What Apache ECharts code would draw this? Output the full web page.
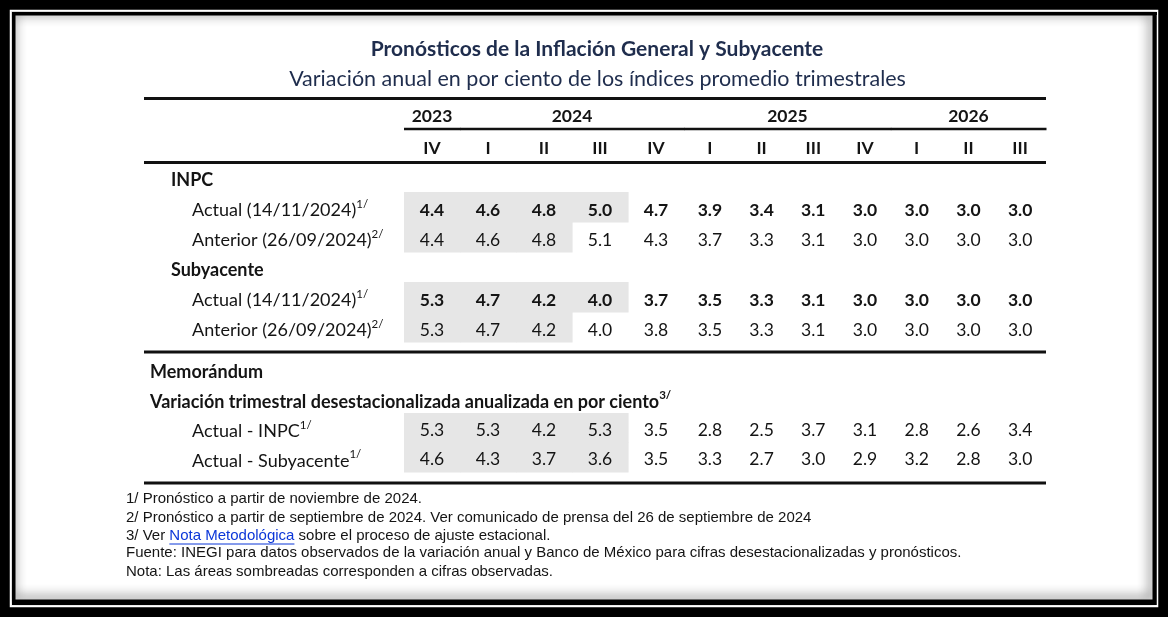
<!DOCTYPE html>
<html><head><meta charset="utf-8">
<script src="https://cdn.jsdelivr.net/npm/echarts@6/dist/echarts.min.js"></script>
<style>html,body{margin:0;padding:0;background:#000}#c{width:1168px;height:617px}</style>
</head><body><div id="c"></div><script>
// ---------------- DATA ----------------
const quarters = ['IV','I','II','III','IV','I','II','III','IV','I','II','III'];
const yearLabels = ['2023','2024','2025','2026'];
const yearFirstCol = [0,1,5,9];
const yearLastCol = [0,4,8,11];

const inpcActual   = [4.4,4.6,4.8,5.0,4.7,3.9,3.4,3.1,3.0,3.0,3.0,3.0];
const inpcAnterior = [4.4,4.6,4.8,5.1,4.3,3.7,3.3,3.1,3.0,3.0,3.0,3.0];
const subActual    = [5.3,4.7,4.2,4.0,3.7,3.5,3.3,3.1,3.0,3.0,3.0,3.0];
const subAnterior  = [5.3,4.7,4.2,4.0,3.8,3.5,3.3,3.1,3.0,3.0,3.0,3.0];
const memoInpc     = [5.3,5.3,4.2,5.3,3.5,2.8,2.5,3.7,3.1,2.8,2.6,3.4];
const memoSub      = [4.6,4.3,3.7,3.6,3.5,3.3,2.7,3.0,2.9,3.2,2.8,3.0];

const upperRowLabels = ['INPC','Actual (14/11/2024)','Anterior (26/09/2024)','Subyacente','Actual (14/11/2024)','Anterior (26/09/2024)'];
const upperRowNotes = ['','1/','2/','','1/','2/'];
const upperRowHeading = [true,false,false,true,false,false];
const upperRowValues = [null,inpcActual,inpcAnterior,null,subActual,subAnterior];
const upperRowObserved = [0,4,3,0,4,3];   // number of observed (shaded) quarters
const upperRowBold = [false,true,false,false,true,false];

const memoRowLabels = ['Memorándum','Variación trimestral desestacionalizada anualizada en por ciento','Actual - INPC','Actual - Subyacente'];
const memoRowNotes = ['','3/','1/','1/'];
const memoRowHeading = [true,true,false,false];
const memoRowValues = [null,null,memoInpc,memoSub];
const memoRowObserved = [0,0,4,4];
const memoRowBold = [false,false,false,false];

const titleText = 'Pronósticos de la Inflación General y Subyacente';
const subtitleText = 'Variación anual en por ciento de los índices promedio trimestrales';
const footnotes = [
  ['1/ Pronóstico a partir de noviembre de 2024.'],
  ['2/ Pronóstico a partir de septiembre de 2024. Ver comunicado de prensa del 26 de septiembre de 2024'],
  ['3/ Ver ', 'Nota Metodológica', ' sobre el proceso de ajuste estacional.'],
  ['Fuente: INEGI para datos observados de la variación anual y Banco de México para cifras desestacionalizadas y pronósticos.'],
  ['Nota: Las áreas sombreadas corresponden a cifras observadas.']
];

// ---------------- LAYOUT / STYLE ----------------
const FONT = 'Lato';
const FOOT_FONT = '"Liberation Sans", Arial, sans-serif';
const TXT = '#141414';
const NAVY = '#1f2d4d';
const SHADE = '#e6e6e6';
const NUM_SIZE = 17.5;
const LABEL_SIZE = 18;
const SPLIT = 5; // columns 0..4 in left grids, 5..11 in right grids
const X0 = 404, XS = 684, X1 = 1046;
const TABLE_L = 144;

const grids = [
  {left: X0, top: 100, width: XS - X0, height: 32},  // 0 header left
  {left: XS, top: 100, width: X1 - XS, height: 32},  // 1 header right
  {left: X0, top: 162, width: XS - X0, height: 180}, // 2 upper left
  {left: XS, top: 162, width: X1 - XS, height: 180}, // 3 upper right
  {left: X0, top: 354, width: XS - X0, height: 118}, // 4 memo left
  {left: XS, top: 354, width: X1 - XS, height: 118}  // 5 memo right
];
const leftQ = quarters.slice(0, SPLIT), rightQ = quarters.slice(SPLIT);

function richLabels(indent) {
  return {
    h: {fontFamily: FONT, fontSize: LABEL_SIZE, fontWeight: 'bold', color: TXT, lineHeight: 24},
    hs: {fontFamily: FONT, fontSize: 11.5, fontWeight: 'bold', color: TXT, lineHeight: 12, verticalAlign: 'top'},
    r: {fontFamily: FONT, fontSize: LABEL_SIZE, color: TXT, lineHeight: 24, padding: [0, 0, 0, indent]},
    s: {fontFamily: FONT, fontSize: 11.5, color: TXT, lineHeight: 12, verticalAlign: 'top'}
  };
}
function labelFormatter(labels, notes, heading) {
  return function (v, i) {
    if (heading[i]) return '{h|' + labels[i] + '}' + (notes[i] ? '{hs|' + notes[i] + '}' : '');
    return '{r|' + labels[i] + '}' + (notes[i] ? '{s|' + notes[i] + '}' : '');
  };
}
const idx = n => Array.from({length: n}, (_, i) => String(i));

const qLabel = {interval: 0, margin: 14, verticalAlign: 'middle', fontFamily: FONT, fontSize: NUM_SIZE, fontWeight: 'bold', color: TXT};
const xAxes = [
  {gridIndex: 0, type: 'category', data: leftQ, show: false},
  {gridIndex: 1, type: 'category', data: rightQ, show: false},
  {gridIndex: 2, type: 'category', data: leftQ, position: 'top', axisLine: {show: false}, axisTick: {show: false}, axisLabel: qLabel},
  {gridIndex: 3, type: 'category', data: rightQ, position: 'top', axisLine: {show: false}, axisTick: {show: false}, axisLabel: qLabel},
  {gridIndex: 4, type: 'category', data: leftQ, show: false},
  {gridIndex: 5, type: 'category', data: rightQ, show: false}
];
const yAxes = [
  {gridIndex: 0, type: 'category', data: ['y'], show: false},
  {gridIndex: 1, type: 'category', data: ['y'], show: false},
  {gridIndex: 2, type: 'category', data: idx(upperRowLabels.length), inverse: true, axisLine: {show: false}, axisTick: {show: false}, splitLine: {show: false},
   axisLabel: {interval: 0, align: 'left', margin: X0 - 171, padding: [7, 0, 0, 0], formatter: labelFormatter(upperRowLabels, upperRowNotes, upperRowHeading), rich: richLabels(21)}},
  {gridIndex: 3, type: 'category', data: idx(upperRowLabels.length), inverse: true, show: false},
  {gridIndex: 4, type: 'category', data: idx(memoRowLabels.length), inverse: true, axisLine: {show: false}, axisTick: {show: false}, splitLine: {show: false},
   axisLabel: {interval: 0, align: 'left', margin: X0 - 150, padding: [7, 0, 0, 0], formatter: labelFormatter(memoRowLabels, memoRowNotes, memoRowHeading), rich: richLabels(42)}},
  {gridIndex: 5, type: 'category', data: idx(memoRowLabels.length), inverse: true, show: false}
];

function cellData(rowValues, rowObserved, rowBold, from, to) {
  const out = [];
  rowValues.forEach((vals, r) => {
    if (!vals) return;
    for (let c = from; c < to; c++) out.push([c - from, r, vals[c], c < rowObserved[r] ? 1 : 0, rowBold[r] ? 1 : 0]);
  });
  return out;
}
function cellSeries(axisIdx, data, dy) {
  return {
    type: 'custom', xAxisIndex: axisIdx, yAxisIndex: axisIdx, data: data, silent: true,
    renderItem: function (params, api) {
      const c = api.coord([api.value(0), api.value(1)]);
      const s = api.size([1, 1]);
      const ch = [];
      if (api.value(3)) ch.push({type: 'rect', shape: {x: c[0] - s[0] / 2, y: c[1] - s[1] / 2, width: s[0] + 0.6, height: s[1] + 0.6}, style: {fill: SHADE}});
      ch.push({type: 'text', style: {text: Number(api.value(2)).toFixed(1), x: c[0], y: c[1] + dy, align: 'center', verticalAlign: 'middle',
        fontFamily: FONT, fontSize: NUM_SIZE, fontWeight: api.value(4) ? 'bold' : 'normal', fill: TXT}});
      return {type: 'group', children: ch};
    }
  };
}
function yearData(from, to) {
  const out = [];
  yearLabels.forEach((y, i) => {
    if (yearFirstCol[i] >= from && yearLastCol[i] < to) out.push([yearFirstCol[i] - from, 0, yearLastCol[i] - from, i]);
  });
  return out;
}
function yearSeries(axisIdx, data) {
  return {
    type: 'custom', xAxisIndex: axisIdx, yAxisIndex: axisIdx, data: data, silent: true,
    renderItem: function (params, api) {
      const a = api.coord([api.value(0), 0]);
      const b = api.coord([api.value(2), 0]);
      const s = api.size([1, 1]);
      const xa = a[0] - s[0] / 2, xb = b[0] + s[0] / 2;
      return {type: 'group', children: [
        {type: 'text', style: {text: yearLabels[api.value(3)], x: (xa + xb) / 2, y: a[1], align: 'center', verticalAlign: 'middle',
          fontFamily: FONT, fontSize: NUM_SIZE, fontWeight: 'bold', fill: TXT}},
        {type: 'line', shape: {x1: xa, y1: a[1] + s[1] / 2 - 3, x2: xb + 0.5, y2: a[1] + s[1] / 2 - 3}, style: {stroke: '#111', lineWidth: 2.6}}
      ]};
    }
  };
}

// measure text widths for the footnote link
const mctx = document.createElement('canvas').getContext('2d');
const FOOT_SIZE = 15;
mctx.font = FOOT_SIZE + 'px ' + FOOT_FONT;
const footX = 126, footY = [499, 518, 536, 553, 572];
const footEls = [];
footnotes.forEach((parts, i) => {
  let x = footX;
  parts.forEach((p, j) => {
    const isLink = parts.length > 1 && j === 1;
    footEls.push({type: 'text', x: x, y: footY[i], style: {text: p, fontFamily: FOOT_FONT, fontSize: FOOT_SIZE, fill: isLink ? '#0b36d8' : TXT, verticalAlign: 'middle'}});
    const w = mctx.measureText(p).width;
    if (isLink) footEls.push({type: 'line', shape: {x1: x, y1: footY[i] + 8, x2: x + w, y2: footY[i] + 8}, style: {stroke: '#0b36d8', lineWidth: 1}});
    x += w;
  });
});

const rule = (y, w, x1) => ({type: 'line', shape: {x1: x1 || TABLE_L, y1: y, x2: X1, y2: y}, style: {stroke: '#111', lineWidth: w}});

const option = {
  backgroundColor: '#000',
  animation: false,
  title: [
    {text: titleText, left: 592, top: 31, textAlign: 'center', textStyle: {fontFamily: FONT, fontSize: 21, fontWeight: 'bold', color: NAVY, lineHeight: 26}},
    {text: subtitleText, left: 592.5, top: 61, textAlign: 'center', textStyle: {fontFamily: FONT, fontSize: 21.5, fontWeight: 'normal', color: NAVY, lineHeight: 26}}
  ],
  grid: grids,
  xAxis: xAxes,
  yAxis: yAxes,
  graphic: {elements: [
    {type: 'rect', shape: {x: 10, y: 10, width: 1148, height: 597}, style: {fill: '#fff'}},
    {type: 'rect', shape: {x: 12, y: 12, width: 1145, height: 593}, style: {fill: '#000'}},
    {type: 'rect', shape: {x: 15, y: 15, width: 1138, height: 585}, style: {fill: '#fff'}},
    {type: 'rect', shape: {x: 14, y: 14, width: 1140, height: 587}, style: {fill: null, stroke: '#000', lineWidth: 3, shadowBlur: 12, shadowColor: 'rgba(0,0,0,0.9)', shadowOffsetX: -2, shadowOffsetY: -2}},
    {type: 'rect', shape: {x: 10.5, y: 10.5, width: 1147, height: 596}, style: {fill: null, stroke: '#fff', lineWidth: 1.5}},
    {type: 'rect', shape: {x: 12, y: 12, width: 1145, height: 3}, style: {fill: '#000'}},
    rule(98.5, 3), rule(162.5, 3), rule(352, 3), rule(483, 3)
  ].concat(footEls)},
  series: [
    yearSeries(0, yearData(0, SPLIT)),
    yearSeries(1, yearData(SPLIT, quarters.length)),
    cellSeries(2, cellData(upperRowValues, upperRowObserved, upperRowBold, 0, SPLIT), 3),
    cellSeries(3, cellData(upperRowValues, upperRowObserved, upperRowBold, SPLIT, quarters.length), 3),
    cellSeries(4, cellData(memoRowValues, memoRowObserved, memoRowBold, 0, SPLIT), 2.5),
    cellSeries(5, cellData(memoRowValues, memoRowObserved, memoRowBold, SPLIT, quarters.length), 2.5)
  ]
};
const chart = echarts.init(document.getElementById('c'), null, {renderer: 'canvas'});
chart.setOption(option);
</script></body></html>
